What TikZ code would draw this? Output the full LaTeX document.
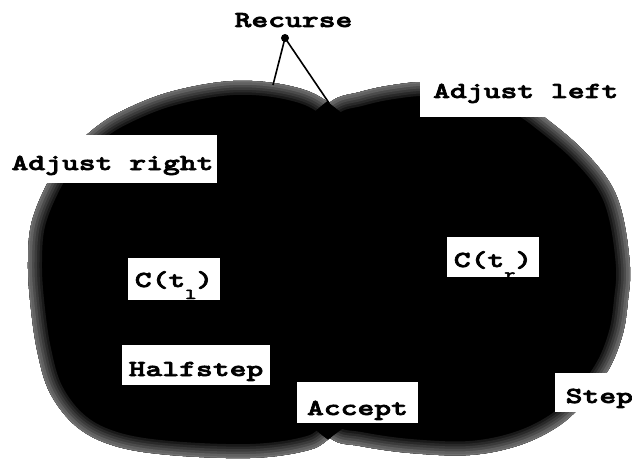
\documentclass[tikz,border=0pt]{standalone}
\usepackage{fontspec}
\newfontfamily\cour{lmmonolt10-bold.otf}[FakeStretch=1.4, FakeBold=3]
\tikzset{
  lbl/.style={font=\cour\fontsize{22.9}{24}\selectfont, fill=white, inner ysep=0pt, anchor=base},
  plain/.style={font=\cour\fontsize{22.9}{24}\selectfont, inner sep=0pt, anchor=base},
  link/.style={line width=1.6pt, black},
}
\newcommand\subtxt[1]{\raisebox{-12pt}{\fontsize{15}{15}\selectfont #1}}
\def\leftblob{plot[smooth cycle,tension=0.6] coordinates{(329,103) (290,86) (233,81) (170,92) (120,112) (90,132) (62,160) (44,190) (31,225) (28,262) (30,300) (37,350) (50,393) (77,427) (115,446) (170,455) (250,458) (305,451) (330,438) (370,400) (392,330) (390,220) (368,145)}}
\def\rightblob{plot[smooth cycle,tension=0.6] coordinates{(329,103) (360,92) (393,85) (430,82) (480,88) (520,101) (548,120) (583,150) (610,183) (623,217) (630,267) (628,300) (623,333) (610,367) (588,398) (560,425) (520,445) (470,455) (410,453) (360,446) (330,438) (295,400) (272,330) (272,220) (292,145)}}
\begin{document}
\begin{tikzpicture}[x=1pt,y=-1pt]
\useasboundingbox (0,0) rectangle (632,460);
\clip (0,0) rectangle (632,460);
% left blob
\begin{scope}
  \clip \leftblob;
  \fill[black] \leftblob;
  \foreach \w/\c in {28/90,23/84,18/77,13/70,8/62,3/56}
    \draw[line width=\w*1pt, black!\c] \leftblob;
\end{scope}
% right blob
\begin{scope}
  \clip \rightblob;
  \fill[black] \rightblob;
  \foreach \w/\c in {28/90,23/84,18/77,13/70,8/62,3/56}
    \draw[line width=\w*1pt, black!\c] \rightblob;
\end{scope}
% overlap solid black
\begin{scope}
  \clip \leftblob;
  \fill[black] \rightblob;
  \draw[black, line width=5pt] \rightblob;
\end{scope}
% Recurse pointer
\node[plain] (rec) at (293.5,27) {Recurse};
\node[circle, fill=black, inner sep=0pt, minimum size=8pt] (dot) at (285,38) {};
\coordinate (ledge) at (273,85);
\coordinate (notch) at (329,103);
\draw[link] (dot.center) -- (ledge);
\draw[link] (dot.center) -- (notch);
% labels
\node[lbl, inner xsep=4pt, text height=35pt, text depth=13pt] (adjr) at (112.5,170) {Adjust right};
\node[lbl, anchor=base west, inner xsep=13pt, text height=40pt, text depth=19pt] (adjl) at (420,98) {Adjust left};
\node[lbl, inner xsep=0pt, minimum width=92pt, text height=29pt, text depth=13pt] (cl) at (174,287) {C(t\subtxt{l})};
\node[lbl, inner xsep=0pt, minimum width=92pt, text height=30pt, text depth=10pt] (cr) at (493,267) {C(t\subtxt{r})};
\node[lbl, inner xsep=0pt, minimum width=148pt, text height=31pt, text depth=9pt] (half) at (196,376) {Halfstep};
\node[lbl, inner xsep=0pt, minimum width=121pt, text height=33pt, text depth=8pt] (acc) at (357.5,415) {Accept};
\node[lbl, anchor=base west, inner xsep=10.5pt, text height=30pt, text depth=9pt] (step) at (555,403) {Step};
\end{tikzpicture}
\end{document}
